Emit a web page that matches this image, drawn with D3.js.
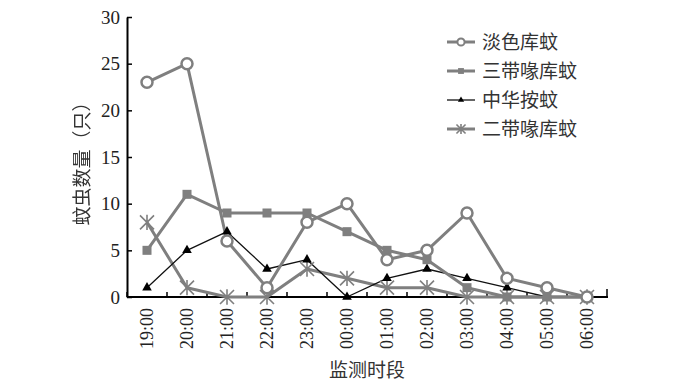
<!DOCTYPE html>
<html><head><meta charset="utf-8">
<script src="https://cdn.jsdelivr.net/npm/d3@7"></script>
<style>body{margin:0;background:#fff}svg{display:block}</style>
</head><body>
<svg id="c" width="674" height="387"></svg>
<script>
const categories = ["19:00","20:00","21:00","22:00","23:00","00:00","01:00","02:00","03:00","04:00","05:00","06:00"];
const seriesNames = ["淡色库蚊","三带喙库蚊","中华按蚊","二带喙库蚊"];
const danse = [23,25,6,1,8,10,4,5,9,2,1,0];
const sandai = [5,11,9,9,9,7,5,4,1,0,0,0];
const zhonghua = [1,5,7,3,4,0,2,3,2,1,0,0];
const erdai = [8,1,0,0,3,2,1,1,0,0,0,0];
const yTicks = [0,5,10,15,20,25,30];

const svg = d3.select("#c");
const defs = svg.append("defs");
defs.append("filter").attr("id","gs").append("feColorMatrix").attr("type","saturate").attr("values",0);

const x = d3.scaleBand().domain(categories).range([127,607]);
const y = d3.scaleLinear().domain([0,30]).range([297,17]);
const gray = "#7f7f7f";
const serif = "'Liberation Serif','Times New Roman',serif";
const cjk = "'Noto Sans CJK SC',sans-serif";

// axes
const ya = svg.append("g").attr("transform","translate(127,0)")
  .call(d3.axisLeft(y).tickValues(yTicks).tickSize(-5).tickPadding(7).tickSizeOuter(0));
ya.select(".domain").attr("stroke","#000").attr("stroke-width",2);
ya.selectAll(".tick line").attr("stroke","#000").attr("stroke-width",1.5);
ya.selectAll(".tick text").attr("font-family",serif).attr("font-size",19).attr("fill","#222");

const xa = svg.append("g").attr("transform","translate(0,297)");
xa.append("line").attr("x1",127).attr("x2",608).attr("y1",0).attr("y2",0).attr("stroke","#000").attr("stroke-width",2);
const bounds = categories.map(c=>x(c)+x.bandwidth()).concat([x(categories[0])]);
xa.selectAll("line.tk").data(bounds).join("line").attr("class","tk")
  .attr("x1",d=>d).attr("x2",d=>d).attr("y1",0).attr("y2",d=>d===607?-8:-5)
  .attr("stroke","#000").attr("stroke-width",1.5);
xa.selectAll("text").data(categories).join("text")
  .attr("transform",d=>`translate(${x(d)+x.bandwidth()/2+6},11) rotate(-90)`)
  .attr("text-anchor","end").attr("font-family",serif).attr("font-size",18).attr("fill","#222")
  .text(d=>d);

// axis titles
svg.append("g").attr("filter","url(#gs)").append("text")
  .attr("transform","translate(89,159) rotate(-90)").attr("text-anchor","middle")
  .attr("font-family",cjk).attr("font-size",19).attr("fill","#333").text("蚊虫数量（只）");
svg.append("text").attr("x",367).attr("y",377).attr("text-anchor","middle")
  .attr("font-family",cjk).attr("font-size",19).attr("fill","#333").text("监测时段");

const cx = d=>x(d)+x.bandwidth()/2;
const line = d3.line().x(d=>cx(d.c)).y(d=>y(d.v));
const mk = arr => categories.map((c,i)=>({c,v:arr[i]}));

const series = [
  {name:seriesNames[0], data:mk(danse), color:gray, w:3, m:"circle"},
  {name:seriesNames[1], data:mk(sandai), color:gray, w:3, m:"square"},
  {name:seriesNames[2], data:mk(zhonghua), color:"#111", w:1.3, m:"tri"},
  {name:seriesNames[3], data:mk(erdai), color:gray, w:3, m:"star"}
];

function marker(g, type, px, py, color, small){
  const s = small?0.65:1;
  if(type==="circle") g.append("circle").attr("cx",px).attr("cy",py).attr("r",5.5*s).attr("fill","#fff").attr("stroke",color).attr("stroke-width",small?2:2.5);
  else if(type==="square") g.append("rect").attr("x",px-4.5*s).attr("y",py-4.5*s).attr("width",9*s).attr("height",9*s).attr("fill",color);
  else if(type==="tri") g.append("path").attr("d",d3.symbol(d3.symbolTriangle, 40*s*s)()).attr("transform",`translate(${px},${py})`).attr("fill","#000");
  else {
    const r=7*s;
    g.append("path").attr("d",`M${px-r},${py-r}L${px+r},${py+r}M${px-r},${py+r}L${px+r},${py-r}M${px},${py-r*1.1}L${px},${py+r*1.1}`)
      .attr("stroke",color).attr("stroke-width",1.6).attr("fill","none");
  }
}

const plot = svg.append("g");
[3,2,1,0].forEach(i=>{
  const s = series[i];
  plot.append("path").datum(s.data).attr("d",line).attr("fill","none").attr("stroke",s.color).attr("stroke-width",s.w).attr("stroke-linejoin","round");
});
[3,2,1,0].forEach(i=>{
  const s = series[i];
  const g = plot.append("g");
  s.data.forEach(d=>marker(g,s.m,cx(d.c),y(d.v),s.color,false));
});

// legend
const lg = svg.append("g");
series.forEach((s,i)=>{
  const ly = 42 + i*29;
  lg.append("line").attr("x1",447).attr("x2",475).attr("y1",ly).attr("y2",ly).attr("stroke",s.color).attr("stroke-width",s.w);
  marker(lg,s.m,461,ly,s.color,true);
  lg.append("text").attr("x",482).attr("y",ly+7).attr("font-family",cjk).attr("font-size",19).attr("fill","#333").text(s.name);
});
</script>
</body></html>
